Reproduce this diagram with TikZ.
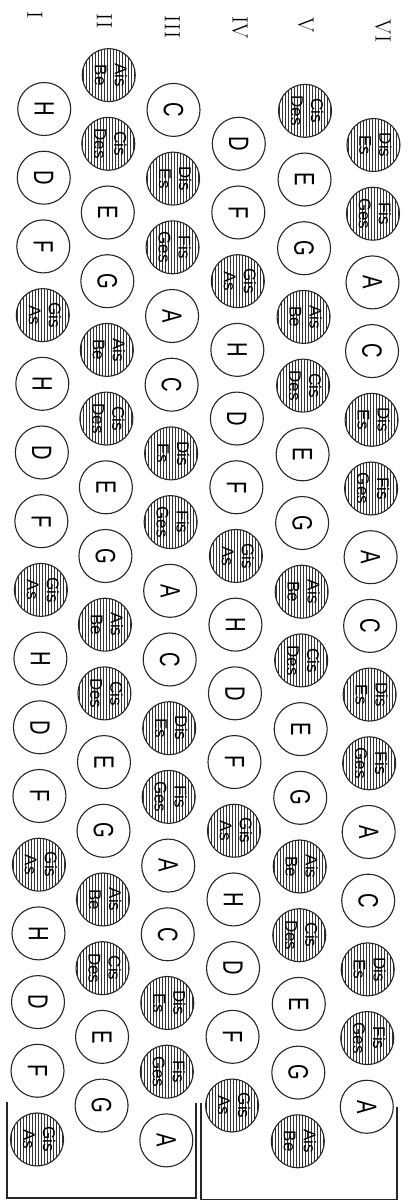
\documentclass[tikz,border=0pt]{standalone}
\usepackage{fontspec}
\newfontfamily\keyfont{Liberation Sans}
\newcommand\nat[1]{\rotatebox{-90}{\scalebox{0.72}[1]{#1}}}
\newcommand\acc[2]{\rotatebox{-90}{\begin{tabular}{@{}c@{}}#1\\#2\end{tabular}}}
\newcommand\keyrow[4]{%
  \foreach \t/\s [count=\i from 0] in {#4}{%
    \node[key\t] (#1-\i) at (#2,{#3+68.7*\i}) {\s};
  }}
\tikzset{
  keybase/.style={circle, draw=black!85, line width=1.1pt, minimum size=53pt, inner sep=0pt},
  keyw/.style={keybase, fill=white, font=\keyfont\fontsize{28}{28}\selectfont},
  keyh/.style={keybase, font=\keyfont\fontsize{17}{20}\selectfont,
    path picture={\foreach \k in {-25.5,-22.5,...,25.5}
      \draw[black!80, line width=0.9pt] ([xshift=\k pt]path picture bounding box.north) -- ([xshift=\k pt]path picture bounding box.south);}},
  rowlabel/.style={rotate=-90, font=\fontsize{22}{22}\selectfont, inner sep=0pt},
  bracket/.style={line width=1.1pt, draw=black!85}
}
\begin{document}
\begin{tikzpicture}[x=1pt,y=-1pt]
\useasboundingbox[fill=white] (0,0) rectangle (414,1201);
% row labels
\node[rowlabel] (lab1) at (35,15) {I};
\node[rowlabel] (lab2) at (104.5,21) {II};
\node[rowlabel] (lab3) at (172.5,27) {III};
\node[rowlabel] (lab4) at (240,28) {IV};
\node[rowlabel] (lab5) at (306,25) {V};
\node[rowlabel] (lab6) at (383,31) {VI};
\begin{scope}[rotate around={-0.4:(200,600)}]
% Row I
\keyrow{r1}{40.8}{110.1}{w/\nat{H},w/\nat{D},w/\nat{F},h/\acc{Gis}{As},w/\nat{H},w/\nat{D},w/\nat{F},h/\acc{Gis}{As},w/\nat{H},w/\nat{D},w/\nat{F},h/\acc{Gis}{As},w/\nat{H},w/\nat{D},w/\nat{F},h/\acc{Gis}{As}}
% Row II
\keyrow{r2}{105.1}{75.75}{h/\acc{Ais}{Be},h/\acc{Cis}{Des},w/\nat{E},w/\nat{G},h/\acc{Ais}{Be},h/\acc{Cis}{Des},w/\nat{E},w/\nat{G},h/\acc{Ais}{Be},h/\acc{Cis}{Des},w/\nat{E},w/\nat{G},h/\acc{Ais}{Be},h/\acc{Cis}{Des},w/\nat{E},w/\nat{G}}
% Row III
\keyrow{r3}{170.1}{110.1}{w/\nat{C},h/\acc{Dis}{Es},h/\acc{Fis}{Ges},w/\nat{A},w/\nat{C},h/\acc{Dis}{Es},h/\acc{Fis}{Ges},w/\nat{A},w/\nat{C},h/\acc{Dis}{Es},h/\acc{Fis}{Ges},w/\nat{A},w/\nat{C},h/\acc{Dis}{Es},h/\acc{Fis}{Ges},w/\nat{A}}
% Row IV
\keyrow{r4}{235.6}{143.5}{w/\nat{D},w/\nat{F},h/\acc{Gis}{As},w/\nat{H},w/\nat{D},w/\nat{F},h/\acc{Gis}{As},w/\nat{H},w/\nat{D},w/\nat{F},h/\acc{Gis}{As},w/\nat{H},w/\nat{D},w/\nat{F},h/\acc{Gis}{As}}
% Row V
\keyrow{r5}{301.6}{110.1}{h/\acc{Cis}{Des},w/\nat{E},w/\nat{G},h/\acc{Ais}{Be},h/\acc{Cis}{Des},w/\nat{E},w/\nat{G},h/\acc{Ais}{Be},h/\acc{Cis}{Des},w/\nat{E},w/\nat{G},h/\acc{Ais}{Be},h/\acc{Cis}{Des},w/\nat{E},w/\nat{G},h/\acc{Ais}{Be}}
% Row VI
\keyrow{r6}{370.3}{143.8}{h/\acc{Dis}{Es},h/\acc{Fis}{Ges},w/\nat{A},w/\nat{C},h/\acc{Dis}{Es},h/\acc{Fis}{Ges},w/\nat{A},w/\nat{C},h/\acc{Dis}{Es},h/\acc{Fis}{Ges},w/\nat{A},w/\nat{C},h/\acc{Dis}{Es},h/\acc{Fis}{Ges},w/\nat{A}}
\end{scope}
% brackets at the bottom
\draw[bracket] (7,1102) -- (7,1198) -- (196,1198) -- (196,1103);
\draw[bracket] (201,1103) -- (201,1199.5) -- (397,1199.5) -- (397,1107);
\end{tikzpicture}
\end{document}
